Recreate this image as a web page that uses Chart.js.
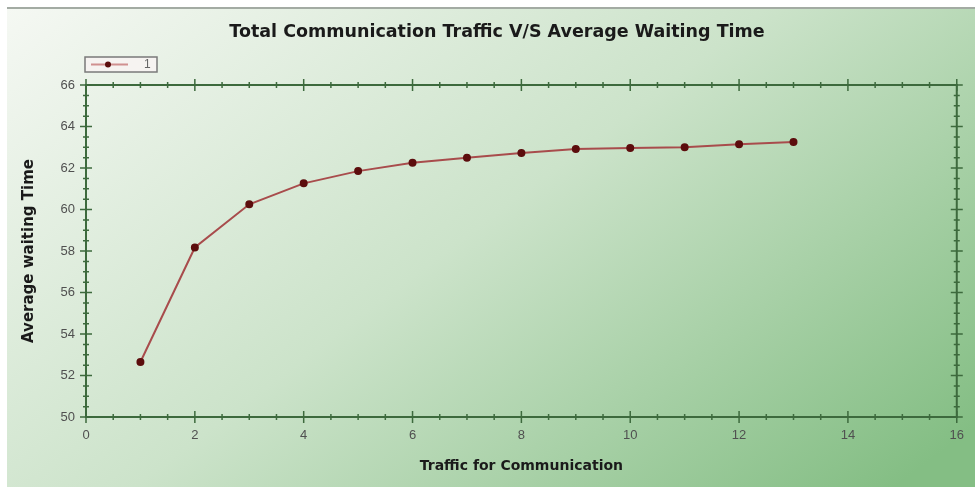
<!DOCTYPE html>
<html>
<head>
<meta charset="utf-8">
<script src="https://cdn.jsdelivr.net/npm/chart.js@4.4.1/dist/chart.umd.min.js"></script>
<style>
  html, body { margin: 0; padding: 0; background: #ffffff; }
  #wrap { width: 975px; height: 488px; position: relative; }
</style>
</head>
<body>
<div id="wrap"><canvas id="grafica" width="975" height="488"></canvas></div>
<script>
// datos
const trafico = [1, 2, 3, 4, 5, 6, 7, 8, 9, 10, 11, 12, 13];
const tiempoEspera = [52.65, 58.17, 60.25, 61.26, 61.85, 62.25, 62.49, 62.72, 62.91, 62.96, 63.0, 63.15, 63.25];
const ticksX = [0, 2, 4, 6, 8, 10, 12, 14, 16];
const ticksY = [50, 52, 54, 56, 58, 60, 62, 64, 66];
const nombreSerie = '1';
const titulo = 'Total Communication Traffic V/S Average Waiting Time';

const colorEje = '#3d6a3d';
const colorLinea = '#a84c4c';
const colorPunto = '#5c0d0d';

// fondo degradado, borde gris de arriba y titulo
const fondo = {
    id: 'fondo',
    beforeDraw(chart) {
        const c = chart.ctx;
        c.save();
        const g = c.createLinearGradient(7, 8, 560, 740);
        g.addColorStop(0, '#f5f8f3');
        g.addColorStop(0.5, '#cce3ca');
        g.addColorStop(1, '#84be84');
        c.fillStyle = g;
        c.fillRect(7, 8, 968, 479);
        c.fillStyle = '#a3aba3';
        c.fillRect(7, 7, 968, 2);

        c.fillStyle = '#1a1a1a';
        c.font = 'bold 17.5px "DejaVu Sans", Verdana, sans-serif';
        c.textAlign = 'center';
        c.textBaseline = 'middle';
        c.fillText(titulo, 497, 32);
        c.restore();
    }
};

// marco, marcas de los ejes y leyenda
const marco = {
    id: 'marco',
    afterDraw(chart) {
        const c = chart.ctx;
        const a = chart.chartArea;
        const sx = chart.scales.x;
        const sy = chart.scales.y;
        c.save();
        c.strokeStyle = colorEje;
        c.lineWidth = 2;
        c.strokeRect(a.left, a.top, a.right - a.left, a.bottom - a.top);
        c.lineWidth = 1.5;
        c.beginPath();
        for (let v = sx.min; v <= sx.max + 0.001; v += 0.5) {
            const px = sx.getPixelForValue(v);
            const l = (v % 2 === 0) ? 6 : 3;
            c.moveTo(px, a.bottom - l); c.lineTo(px, a.bottom + l);
            c.moveTo(px, a.top - l); c.lineTo(px, a.top + l);
        }
        for (let v = sy.min; v <= sy.max + 0.001; v += 0.5) {
            const py = sy.getPixelForValue(v);
            const l = (v % 2 === 0) ? 6 : 3;
            c.moveTo(a.left - l, py); c.lineTo(a.left + l, py);
            c.moveTo(a.right - l, py); c.lineTo(a.right + l, py);
        }
        c.stroke();

        // leyenda
        c.fillStyle = '#f6f3f1';
        c.fillRect(85, 57, 72, 15);
        c.strokeStyle = '#7a7a7a';
        c.lineWidth = 1.5;
        c.strokeRect(85, 57, 72, 15);
        c.strokeStyle = '#d09090';
        c.lineWidth = 2;
        c.beginPath();
        c.moveTo(91, 64.5); c.lineTo(128, 64.5);
        c.stroke();
        c.fillStyle = colorPunto;
        c.beginPath();
        c.arc(108, 64.5, 3, 0, Math.PI * 2);
        c.fill();
        c.fillStyle = '#666';
        c.font = '12px "Liberation Sans", Arial, sans-serif';
        c.textBaseline = 'middle';
        c.fillText(nombreSerie, 144, 65);
        c.restore();
    }
};

const ctx = document.getElementById('grafica').getContext('2d');
const miGrafica = new Chart(ctx, {
    type: 'line',
    data: {
        datasets: [{
            label: nombreSerie,
            data: trafico.map((t, i) => ({ x: t, y: tiempoEspera[i] })),
            borderColor: colorLinea,
            borderWidth: 2,
            pointBackgroundColor: colorPunto,
            pointBorderColor: colorPunto,
            pointRadius: 3,
            tension: 0,
            fill: false
        }]
    },
    options: {
        responsive: false,
        animation: false,
        layout: { padding: { left: 7, right: 17, top: 85, bottom: 0 } },
        plugins: {
            legend: { display: false },
            tooltip: { enabled: false },
            title: { display: false }
        },
        scales: {
            x: {
                type: 'linear',
                min: 0,
                max: 16,
                afterBuildTicks: (s) => { s.ticks = ticksX.map(v => ({ value: v })); },
                grid: { display: false, drawTicks: false },
                border: { display: false },
                ticks: {
                    padding: 11,
                    color: '#505050',
                    font: { family: '"Liberation Sans", Arial, sans-serif', size: 13 }
                },
                title: {
                    display: true,
                    text: 'Traffic for Communication',
                    color: '#1a1a1a',
                    font: { family: '"DejaVu Sans", Verdana, sans-serif', size: 14, weight: 'bold' },
                    padding: { top: 0, bottom: 13 }
                },
                afterFit: (s) => { s.height = 71; }
            },
            y: {
                type: 'linear',
                min: 50,
                max: 66,
                afterBuildTicks: (s) => { s.ticks = ticksY.map(v => ({ value: v })); },
                grid: { display: false, drawTicks: false },
                border: { display: false },
                ticks: {
                    padding: 11,
                    color: '#505050',
                    font: { family: '"Liberation Sans", Arial, sans-serif', size: 13 }
                },
                title: {
                    display: true,
                    text: 'Average waiting Time',
                    color: '#1a1a1a',
                    font: { family: '"DejaVu Sans", Verdana, sans-serif', size: 15, weight: 'bold' },
                    padding: { top: 13, bottom: 0 }
                },
                afterFit: (s) => { s.width = 79; }
            }
        }
    },
    plugins: [fondo, marco]
});
</script>
</body>
</html>
